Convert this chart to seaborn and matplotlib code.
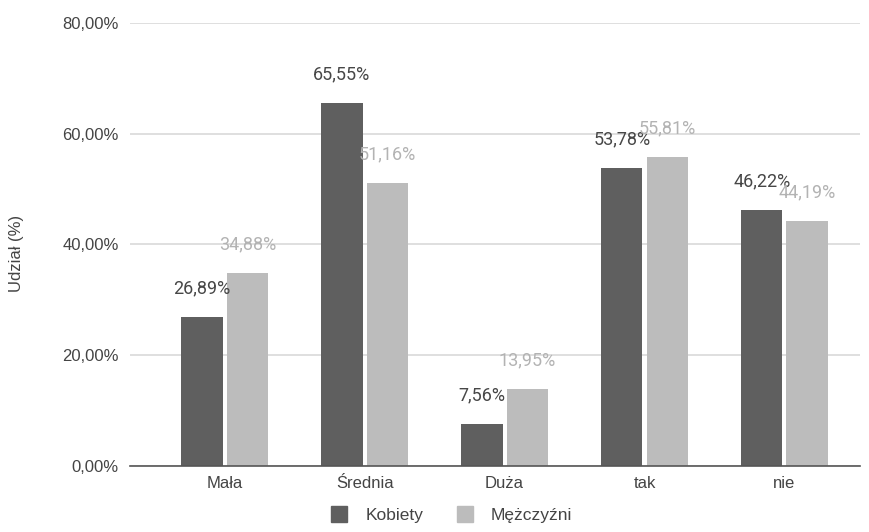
import matplotlib
matplotlib.use("Agg")
import matplotlib.pyplot as plt
import seaborn as sns
import pandas as pd
from matplotlib.ticker import FuncFormatter
from matplotlib.lines import Line2D

categories = ["Mała", "Średnia", "Duża", "tak", "nie"]
kobiety = [26.89, 65.55, 7.56, 53.78, 46.22]
mezczyzni = [34.88, 51.16, 13.95, 55.81, 44.19]
series = ["Kobiety", "Mężczyźni"]
colors = ["#5f5f5f", "#bcbcbc"]
label_colors = ["#474747", "#b3b3b3"]

df = pd.DataFrame({
    "kategoria": categories * 2,
    "udzial": kobiety + mezczyzni,
    "plec": [series[0]] * len(categories) + [series[1]] * len(categories),
})

sns.set_theme(style="white")
plt.rcParams["font.family"] = ["Liberation Sans", "DejaVu Sans"]

fig = plt.figure(figsize=(8.7, 5.32), dpi=100)
ax = fig.add_axes([0.149, 0.124, 0.8395, 0.833])

sns.barplot(data=df, x="kategoria", y="udzial", hue="plec",
            palette=colors, width=0.65, gap=0.09, ax=ax,
            legend=False, saturation=1, edgecolor="none")

ax.set_ylim(0, 80)
ax.set_xlim(-0.68, 4.54)
ax.set_yticks([0, 20, 40, 60, 80])
ax.yaxis.set_major_formatter(FuncFormatter(lambda v, p: f"{v:.2f}".replace(".", ",") + "%"))
ax.grid(axis="y", color="#d9d9d9", linewidth=1.2)
ax.set_axisbelow(True)
for s in ["top", "right", "left"]:
    ax.spines[s].set_visible(False)
ax.spines["bottom"].set_color("#555555")
ax.spines["bottom"].set_linewidth(1.2)
ax.tick_params(axis="both", length=0, labelsize=12, labelcolor="#444444")
ax.tick_params(axis="x", pad=7)
ax.tick_params(axis="y", pad=8)
ax.set_xlabel("")
ax.set_ylabel("Udział (%)", fontsize=12, color="#444444")
ax.yaxis.set_label_coords(-0.145, 0.48)

for container, lc in zip(ax.containers, label_colors):
    labels = [f"{b.get_height():.2f}".replace(".", ",") + "%" for b in container]
    ax.bar_label(container, labels=labels, padding=14, fontsize=13,
                 color=lc, family=["Roboto", "DejaVu Sans"])

handles = [Line2D([0], [0], marker="s", linestyle="none", markersize=12,
                  markerfacecolor=c, markeredgecolor=c) for c in colors]
fig.legend(handles, series, loc="lower center", ncol=2, frameon=False,
           bbox_to_anchor=(0.514, -0.012), fontsize=12.5, handletextpad=0.5,
           columnspacing=1.4, labelcolor="#444444")

fig.savefig("out.png", dpi=100, facecolor="white")
